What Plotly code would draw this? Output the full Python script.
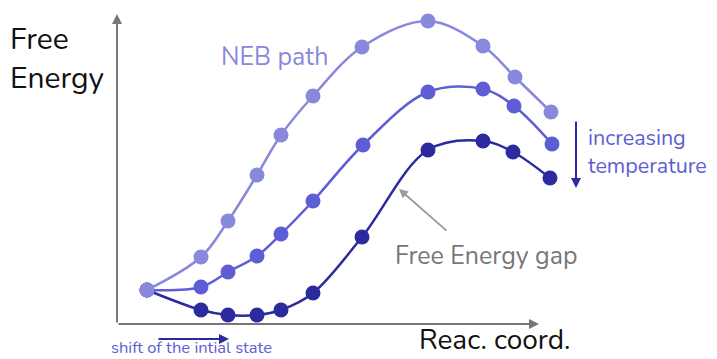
"""Schematic free-energy profiles along the NEB path at three temperatures."""

import plotly.graph_objects as go

# reaction coordinate / free energy (arbitrary units)
reac_low_t = [30, 84, 111, 140, 164, 196, 245, 311, 366, 398, 434]
energy_low_t = [34, 67, 103, 149, 189, 228, 277, 303, 278, 247, 212]

reac_mid_t = [30, 84, 111, 140, 164, 196, 246, 311, 366, 397, 435]
energy_mid_t = [34, 37, 52, 68, 90, 123, 179, 232, 235, 218, 180]

reac_high_t = [30, 84, 111, 140, 164, 196, 245, 311, 366, 396, 433]
energy_high_t = [34, 14, 9, 9, 14, 31, 87, 174, 183, 172, 146]

FONT = "Nunito, Open Sans, sans-serif"
LIGHT = "#8888dd"
MID = "#5d5dd5"
DARK = "#2b2b9f"
AXIS = "#777777"

fig = go.Figure()
for xs, ys, color in (
    (reac_high_t, energy_high_t, DARK),
    (reac_mid_t, energy_mid_t, MID),
    (reac_low_t, energy_low_t, LIGHT),
):
    fig.add_trace(
        go.Scatter(
            x=xs,
            y=ys,
            mode="lines+markers",
            line={"color": color, "width": 2.5, "shape": "spline", "smoothing": 1},
            marker={"color": color, "size": 15},
            showlegend=False,
            hoverinfo="skip",
        )
    )


def arrow(x0, y0, x1, y1, color, width=2, size=1):
    fig.add_annotation(
        x=x1, y=y1, ax=x0, ay=y0, xref="x", yref="y", axref="x", ayref="y",
        text="", showarrow=True, arrowhead=2, arrowsize=size,
        arrowwidth=width, arrowcolor=color,
    )


def label(x, y, text, color, size, xanchor="left"):
    fig.add_annotation(
        x=x, y=y, xref="x", yref="y", text=text, showarrow=False,
        xanchor=xanchor, yanchor="middle", align="left", borderpad=0,
        font={"family": FONT, "size": size, "color": color},
    )


# axes drawn as arrows
arrow(0, 0, 0, 310, AXIS, width=2, size=1)
arrow(0, 0, 422, 0, AXIS, width=2, size=1)
# annotation arrows
arrow(459, 204, 459, 136, DARK, width=2, size=1)
arrow(40, -15, 112, -15, DARK, width=2, size=1)
arrow(331, 92, 282, 135, "#999999", width=1.8, size=1)

label(-108, 265, "Free<br>Energy", "#111111", 30)
label(103, 267, "NEB path", LIGHT, 25)
label(469, 172, "increasing<br>temperature", MID, 21.5)
label(277, 68, "Free Energy gap", "#777777", 25)
label(301, -16, "Reac. coord.", "#111111", 28)
label(-7, -23, "shift of the intial state", MID, 16.5)

fig.update_xaxes(range=[-117, 600], visible=False)
fig.update_yaxes(range=[-35, 324], visible=False)
fig.update_layout(
    width=717,
    height=359,
    margin={"l": 0, "r": 0, "t": 0, "b": 0},
    plot_bgcolor="white",
    paper_bgcolor="white",
)

fig.write_html(
    "out.html",
    config={"displayModeBar": False},
    post_script="document.body.style.margin = '0px';",
)
